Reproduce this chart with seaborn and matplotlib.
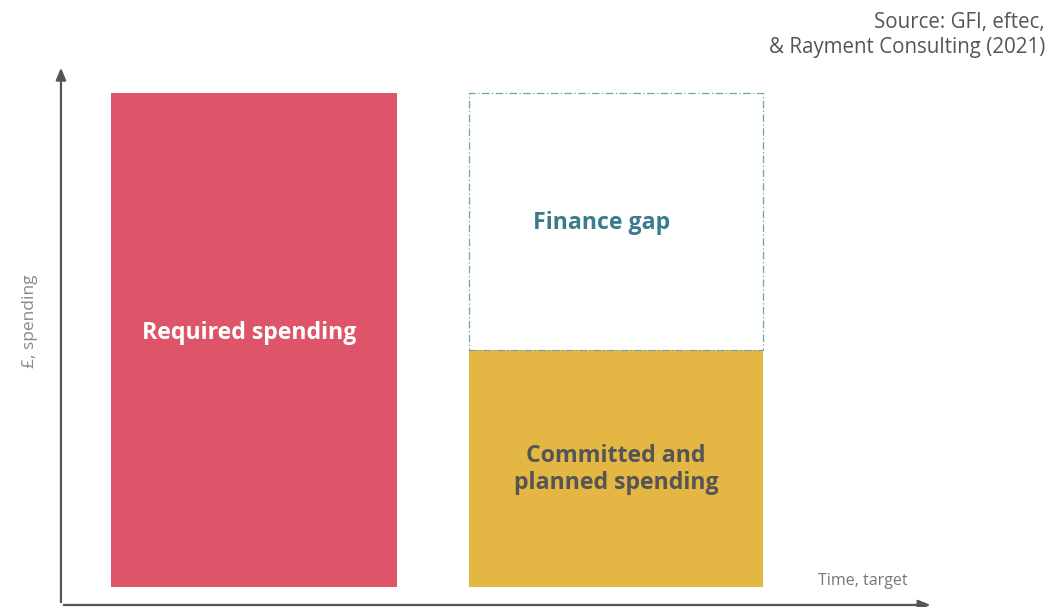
import matplotlib
matplotlib.use("Agg")
import matplotlib.pyplot as plt
import seaborn as sns
import pandas as pd

categories = ["Required spending", "Target"]
required_values = [100, 100]
committed_value = 48
gap_value = 52
bar_labels = ["Required spending", "Finance gap", "Committed and\nplanned spending"]
y_label = "£, spending"
x_label = "Time, target"
source = "Source: GFI, eftec,\n& Rayment Consulting (2021)"

sns.set_theme(style="white")
plt.rcParams["font.family"] = ["Open Sans", "DejaVu Sans"]

fig = plt.figure(figsize=(10.51, 6.07), dpi=100)
ax = fig.add_axes([0, 0, 1, 1])

df = pd.DataFrame({"cat": categories, "val": required_values})
# layer 1: red bar + outline box for the target
sns.barplot(data=df, x="cat", y="val", order=categories, width=0.81,
            palette=["#de5569", "#ffffff"], hue="cat", legend=False, ax=ax,
            saturation=1)
red, box = ax.patches[0], ax.patches[1]
red.set_edgecolor("none")
red.set_x(red.get_x() + 0.009)
red.set_width(red.get_width() - 0.018)

# layer 2: committed spending
df2 = pd.DataFrame({"cat": ["Target"], "val": [committed_value]})
sns.barplot(data=df2, x="cat", y="val", order=categories, width=0.81,
            color="#e4b744", saturation=1, ax=ax, edgecolor="none")

# the finance gap box sits on top of committed spending
box.set_y(committed_value)
box.set_height(gap_value)
box.set_facecolor("none")
box.set_edgecolor("#6fa2b3")
box.set_linestyle((0, (6, 2, 1, 2)))
box.set_linewidth(0.9)
box.set_zorder(5)

ax.set_xlim(-0.7017, 2.2017)
ax.set_ylim(-4.05, 118.83)
ax.axis("off")

# axes arrows
arrow_kw = dict(arrowstyle="-|>,head_length=0.6,head_width=0.25", color="#555555", lw=1.6)
ax.annotate("", xy=(0.058, 0.893), xytext=(0.058, 0.0033), xycoords="axes fraction",
            textcoords="axes fraction", arrowprops=arrow_kw)
ax.annotate("", xy=(0.888, 0.0033), xytext=(0.058, 0.0033), xycoords="axes fraction",
            textcoords="axes fraction", arrowprops=arrow_kw)

# labels
ax.text(-0.014, 51.4, bar_labels[0], ha="center", va="center", color="white",
        fontsize=16.7, fontweight="bold")
ax.text(0.959, 73.6, bar_labels[1], ha="center", va="center", color="#3a7b8c",
        fontsize=16.7, fontweight="bold")
ax.text(1, 23.8, bar_labels[2], ha="center", va="center", color="#555555",
        fontsize=16.7, fontweight="bold", linespacing=1.2)

fig.text(30 / 1051, 1 - 321 / 607, y_label, rotation=90, ha="center", va="center",
         color="#888888", fontsize=12.5)
fig.text(863 / 1051, 1 - 581 / 607, x_label, ha="center", va="center",
         color="#777777", fontsize=11.5)
fig.text(1045 / 1051, 1 - 35 / 607, source, ha="right", va="center",
         color="#555555", fontsize=14.8, linespacing=1.2)

fig.savefig("out.png", dpi=100)
